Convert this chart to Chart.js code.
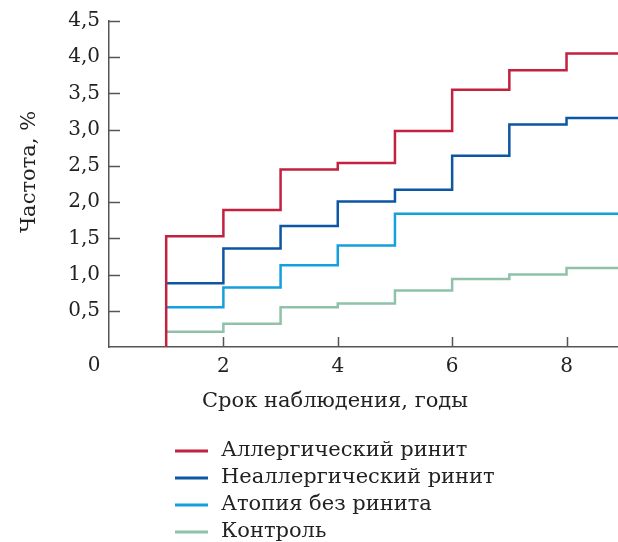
<!DOCTYPE html>
<html>
<head>
<meta charset="utf-8">
<script src="https://cdn.jsdelivr.net/npm/chart.js@4"></script>
<style>
html, body { margin: 0; padding: 0; background: #fff; }
canvas { display: block; }
</style>
</head>
<body>
<canvas id="myChart" width="618" height="542"></canvas>
<script>
// годы наблюдения и частота (%) по группам
const years = [1, 2, 3, 4, 5, 6, 7, 8, 9];
const allergic = [1.53, 1.89, 2.45, 2.54, 2.98, 3.55, 3.82, 4.05, 4.05];
const nonAllergic = [0.88, 1.36, 1.67, 2.01, 2.17, 2.64, 3.07, 3.16, 3.16];
const atopy = [0.55, 0.82, 1.13, 1.40, 1.84, 1.84, 1.84, 1.84, 1.84];
const control = [0.21, 0.32, 0.55, 0.60, 0.78, 0.94, 1.00, 1.09, 1.09];

const xTickValues = [0, 2, 4, 6, 8];
const seriesNames = ['Аллергический ринит', 'Неаллергический ринит', 'Атопия без ринита', 'Контроль'];
const seriesColors = ['#c2213f', '#0d56a3', '#14a0dc', '#8fc2a8'];
const xTitle = 'Срок наблюдения, годы';
const yTitle = 'Частота, %';

const font = "'DejaVu Serif', serif";
const axisColor = '#555';
const textColor = '#222';

function points(vals, fromZero) {
    let pts = years.map((x, i) => ({x: x, y: vals[i]}));
    if (fromZero) pts.unshift({x: years[0], y: 0});
    return pts;
}

const allSeries = [allergic, nonAllergic, atopy, control];

const extras = {
    id: 'extras',
    beforeDatasetsDraw(chart) {
        const ctx = chart.ctx;
        const xs = chart.scales.x, ys = chart.scales.y;
        const area = chart.chartArea;
        ctx.save();
        ctx.strokeStyle = axisColor;
        ctx.lineWidth = 1.5;
        ctx.beginPath();
        ys.ticks.forEach(t => {
            if (t.value > 0) {
                const py = Math.round(ys.getPixelForValue(t.value)) + 0.5;
                ctx.moveTo(area.left, py);
                ctx.lineTo(area.left + 11, py);
            }
        });
        xs.ticks.forEach(t => {
            if (t.value > 0) {
                const px = Math.round(xs.getPixelForValue(t.value)) + 0.5;
                ctx.moveTo(px, area.bottom);
                ctx.lineTo(px, area.bottom - 10);
            }
        });
        ctx.stroke();
        ctx.restore();
    },
    afterDraw(chart) {
        const ctx = chart.ctx;
        const area = chart.chartArea;
        ctx.save();
        ctx.fillStyle = textColor;
        ctx.textBaseline = 'middle';
        // ноль в углу
        ctx.font = '20px ' + font;
        ctx.textAlign = 'center';
        ctx.fillText('0', area.left - 15, area.bottom + 19);
        // подписи осей
        ctx.font = '21px ' + font;
        ctx.fillText(xTitle, 335, 402);
        ctx.save();
        ctx.translate(30, 172);
        ctx.rotate(-Math.PI / 2);
        ctx.fillText(yTitle, 0, 0);
        ctx.restore();
        // легенда
        ctx.textAlign = 'left';
        chart.data.datasets.forEach((ds, i) => {
            const cy = 451 + i * 27;
            ctx.strokeStyle = ds.borderColor;
            ctx.lineWidth = 3;
            ctx.beginPath();
            ctx.moveTo(175, cy);
            ctx.lineTo(208, cy);
            ctx.stroke();
            ctx.fillText(ds.label, 221, cy);
        });
        ctx.restore();
    }
};

new Chart(document.getElementById('myChart'), {
    type: 'line',
    data: {
        datasets: allSeries.map((vals, i) => ({
            label: seriesNames[i],
            data: points(vals, i === 0),
            borderColor: seriesColors[i],
            backgroundColor: seriesColors[i],
            borderWidth: 2.5,
            pointRadius: 0,
            stepped: true,
            fill: false
        }))
    },
    options: {
        responsive: false,
        animation: false,
        layout: { padding: { top: 19, right: 0, bottom: 155, left: 0 } },
        plugins: {
            legend: { display: false },
            tooltip: { enabled: false }
        },
        scales: {
            x: {
                type: 'linear',
                min: 0,
                max: 8.9,
                afterBuildTicks: s => { s.ticks = xTickValues.map(v => ({value: v})); },
                afterFit: s => { s.height = 40; s.paddingRight = 0; },
                border: { color: axisColor, width: 1.5 },
                grid: { display: false, drawTicks: false },
                ticks: {
                    padding: 8,
                    color: textColor,
                    font: { family: font, size: 20 },
                    callback: v => v === 0 ? '' : v
                }
            },
            y: {
                min: 0,
                max: 4.5,
                afterFit: s => { s.width = 109; },
                border: { color: axisColor, width: 1.5 },
                grid: { display: false, drawTicks: false },
                ticks: {
                    stepSize: 0.5,
                    padding: 9,
                    color: textColor,
                    font: { family: font, size: 20 },
                    callback: v => v === 0 ? '' : v.toFixed(1).replace('.', ',')
                }
            }
        }
    },
    plugins: [extras]
});
</script>
</body>
</html>
